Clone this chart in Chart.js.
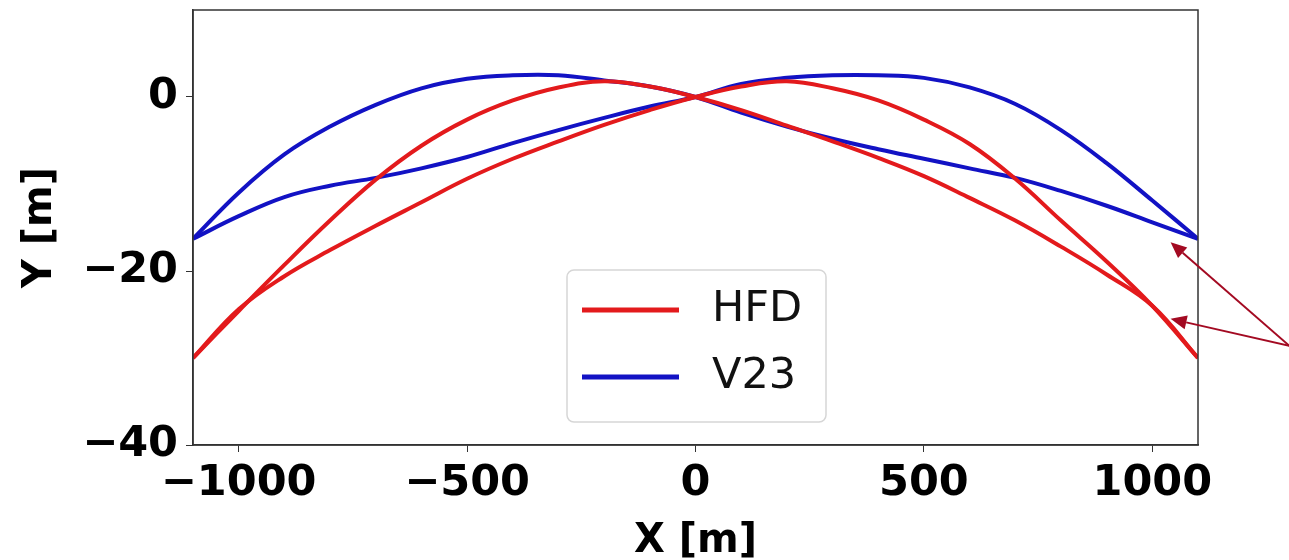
<!DOCTYPE html>
<html>
<head>
<meta charset="utf-8">
<script src="https://cdn.jsdelivr.net/npm/chart.js@4/dist/chart.umd.min.js"></script>
<style>
  html, body { margin: 0; padding: 0; background: #fff; }
  #wrap { width: 1289px; height: 560px; }
</style>
</head>
<body>
<div id="wrap"><canvas id="chart" width="1289" height="560"></canvas></div>
<script>
// Profiles sampled every 100 m along X.
const xValues = [-1100, -1000, -900, -800, -700, -600, -500, -400, -300, -200, -100, 0,
  100, 200, 300, 400, 500, 600, 700, 800, 900, 1000, 1100];

const hfdLeft = [-30, -24.6, -19.3, -14.2, -9.5, -5.6, -2.6, -0.4, 1.1, 1.8, 1.2, 0,
  -1.5, -3.3, -5.1, -7.0, -9.1, -11.6, -14.2, -17.2, -20.4, -24.0, -30];
const hfdRight = [-30, -24.4, -20.6, -17.6, -14.8, -12.1, -9.4, -7.1, -5.1, -3.2, -1.5, 0,
  1.2, 1.8, 1.0, -0.4, -2.6, -5.4, -9.4, -14.2, -18.9, -24.0, -30];
const v23Left = [-16.3, -11.0, -6.6, -3.4, -0.9, 1.0, 2.1, 2.5, 2.5, 1.9, 1.2, 0,
  -1.8, -3.4, -4.8, -6.0, -7.1, -8.2, -9.3, -10.8, -12.5, -14.4, -16.3];
const v23Right = [-16.3, -13.7, -11.5, -10.2, -9.3, -8.2, -6.9, -5.3, -3.8, -2.4, -1.1, 0,
  1.5, 2.2, 2.5, 2.5, 2.2, 1.1, -0.8, -3.8, -7.6, -11.9, -16.3];

const xTicks = [-1000, -500, 0, 500, 1000];
const yTicks = [-40, -20, 0];

const seriesNames = ['HFD', 'V23'];
const seriesColors = ['#e31a1c', '#1212c4'];

// Annotation arrows, in data units.
const arrowTail = {x: 1300, y: -28.6};
const arrowTips = [{x: 1040, y: -16.7}, {x: 1040, y: -25.5}];

const tickFont = {family: 'DejaVu Sans', size: 43, weight: 'bold'};
const titleFont = {family: 'DejaVu Sans', size: 40, weight: 'bold'};

function points(ys) {
  return xValues.map((x, i) => ({x, y: ys[i]}));
}

function lineSet(label, ys, color) {
  return {
    label,
    data: points(ys),
    borderColor: color,
    backgroundColor: color,
    borderWidth: 4,
    pointRadius: 0,
    showLine: true,
    fill: false,
    tension: 0.4,
  };
}

function minusLabel(v) {
  return v < 0 ? '\u2212' + Math.abs(v) : String(v);
}

// Box around the plot, arrows and the legend.
const extras = {
  id: 'extras',
  afterDraw(chart) {
    const ctx = chart.ctx;
    const a = chart.chartArea;
    const xs = chart.scales.x;
    const ys = chart.scales.y;

    ctx.save();
    ctx.strokeStyle = '#333';
    ctx.lineWidth = 1.5;
    ctx.strokeRect(a.left, a.top, a.right - a.left, a.bottom - a.top);

    // arrows
    const tx = xs.getPixelForValue(arrowTail.x);
    const ty = ys.getPixelForValue(arrowTail.y);
    ctx.strokeStyle = '#a30a22';
    ctx.fillStyle = '#a30a22';
    ctx.lineWidth = 2;
    arrowTips.forEach((tip) => {
      const px = xs.getPixelForValue(tip.x);
      const py = ys.getPixelForValue(tip.y);
      const ang = Math.atan2(py - ty, px - tx);
      const head = 16;
      const bx = px - head * Math.cos(ang);
      const by = py - head * Math.sin(ang);
      ctx.beginPath();
      ctx.moveTo(tx, ty);
      ctx.lineTo(bx, by);
      ctx.stroke();
      ctx.beginPath();
      ctx.moveTo(px, py);
      ctx.lineTo(bx + 7 * Math.sin(ang), by - 7 * Math.cos(ang));
      ctx.lineTo(bx - 7 * Math.sin(ang), by + 7 * Math.cos(ang));
      ctx.closePath();
      ctx.fill();
    });

    // legend
    const lx = a.left + 374;
    const ly = a.top + 260;
    const lw = 259;
    const lh = 152;
    ctx.beginPath();
    ctx.roundRect(lx, ly, lw, lh, 7);
    ctx.fillStyle = 'rgba(255,255,255,0.85)';
    ctx.fill();
    ctx.strokeStyle = '#d6d6d6';
    ctx.lineWidth = 1.5;
    ctx.stroke();
    ctx.font = '43px "DejaVu Sans"';
    ctx.textBaseline = 'middle';
    seriesNames.forEach((name, i) => {
      const yy = ly + 40 + i * 67;
      ctx.strokeStyle = seriesColors[i];
      ctx.lineWidth = 5;
      ctx.beginPath();
      ctx.moveTo(lx + 15, yy);
      ctx.lineTo(lx + 112, yy);
      ctx.stroke();
      ctx.fillStyle = '#111';
      ctx.fillText(name, lx + 145, yy);
    });
    ctx.restore();
  },
};

new Chart(document.getElementById('chart'), {
  type: 'scatter',
  data: {
    datasets: [
      lineSet('HFD', hfdLeft, seriesColors[0]),
      lineSet('HFD', hfdRight, seriesColors[0]),
      lineSet('V23', v23Left, seriesColors[1]),
      lineSet('V23', v23Right, seriesColors[1]),
    ],
  },
  options: {
    responsive: false,
    animation: false,
    layout: {padding: {top: 10, right: 91, bottom: 0, left: 0}},
    plugins: {legend: {display: false}, tooltip: {enabled: false}},
    scales: {
      x: {
        type: 'linear',
        min: -1100,
        max: 1100,
        afterBuildTicks: (s) => { s.ticks = xTicks.map((v) => ({value: v})); },
        afterFit: (s) => {
          s.height = 115;
          s.paddingLeft = 0;
          s.paddingRight = 0;
        },
        ticks: {font: tickFont, color: '#000', padding: 6, maxRotation: 0, callback: minusLabel},
        grid: {drawOnChartArea: false, drawTicks: true, tickLength: 7, color: '#333'},
        border: {color: '#333', width: 1.5},
        title: {display: true, text: 'X [m]', font: titleFont, color: '#000',
          padding: {top: 0, bottom: -6}},
      },
      y: {
        type: 'linear',
        min: -40,
        max: 10,
        afterBuildTicks: (s) => { s.ticks = yTicks.map((v) => ({value: v})); },
        afterFit: (s) => {
          s.width = 193;
          s.paddingTop = 0;
          s.paddingBottom = 0;
        },
        ticks: {font: tickFont, color: '#000', padding: 8, callback: minusLabel},
        grid: {drawOnChartArea: false, drawTicks: true, tickLength: 7, color: '#333'},
        border: {color: '#333', width: 1.5},
        title: {display: true, text: 'Y [m]', font: titleFont, color: '#000',
          padding: {top: 17, bottom: 0}},
      },
    },
  },
  plugins: [extras],
});
</script>
</body>
</html>
